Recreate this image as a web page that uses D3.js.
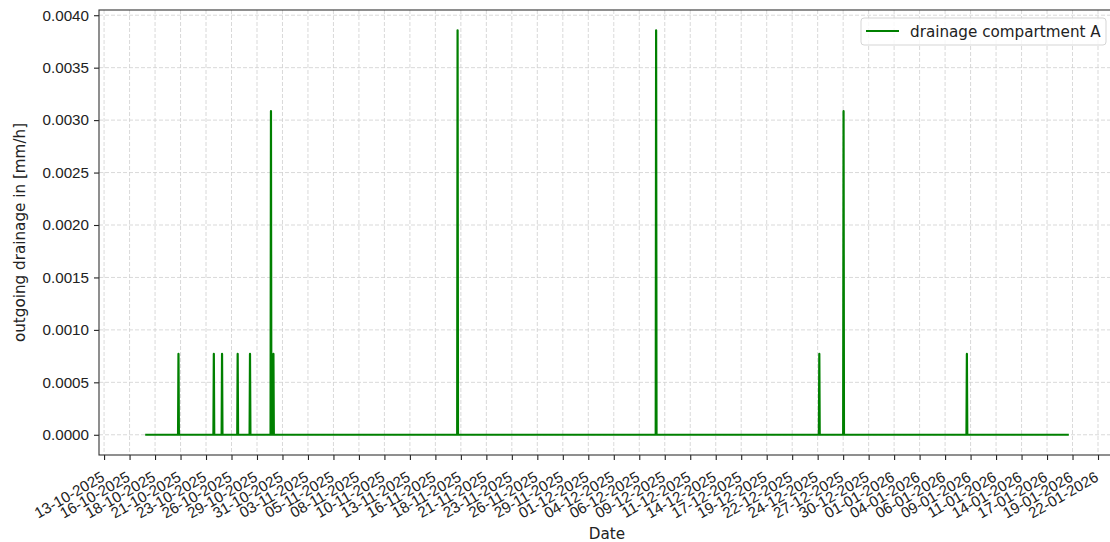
<!DOCTYPE html>
<html>
<head>
<meta charset="utf-8">
<script src="https://cdn.jsdelivr.net/npm/d3@7"></script>
<style>
  html, body { margin: 0; padding: 0; background: #fff; }
  svg { display: block; font-family: "DejaVu Sans", sans-serif; }
</style>
</head>
<body>
<svg id="chart" width="1110" height="542"></svg>
<script>
// ---- data ----
const seriesName = "drainage compartment A";
const dataStart = "2025-10-17T16:00:00Z";
const dataEnd = "2026-01-19T07:00:00Z";
const eventTimes = [
  "2025-10-21T01:00:00Z", "2025-10-24T15:00:00Z", "2025-10-25T11:00:00Z",
  "2025-10-27T01:00:00Z", "2025-10-28T07:00:00Z", "2025-10-30T10:00:00Z",
  "2025-10-30T16:00:00Z", "2025-11-18T08:00:00Z", "2025-12-08T11:00:00Z",
  "2025-12-25T00:00:00Z", "2025-12-27T11:00:00Z", "2026-01-08T23:00:00Z"
];
const eventValues = [
  0.000771, 0.000771, 0.000771,
  0.000771, 0.000771, 0.003085,
  0.000771, 0.003857, 0.003857,
  0.000771, 0.003085, 0.000771
];
const yTicks = [0, 0.0005, 0.001, 0.0015, 0.002, 0.0025, 0.003, 0.0035, 0.004];
const tickStart = "2025-10-13T12:00:00Z";
const tickStepHours = 62;
const xTickLabels = [
  "13-10-2025", "16-10-2025", "18-10-2025", "21-10-2025", "23-10-2025",
  "26-10-2025", "29-10-2025", "31-10-2025", "03-11-2025", "05-11-2025",
  "08-11-2025", "10-11-2025", "13-11-2025", "16-11-2025", "18-11-2025",
  "21-11-2025", "23-11-2025", "26-11-2025", "29-11-2025", "01-12-2025",
  "04-12-2025", "06-12-2025", "09-12-2025", "11-12-2025", "14-12-2025",
  "17-12-2025", "19-12-2025", "22-12-2025", "24-12-2025", "27-12-2025",
  "30-12-2025", "01-01-2026", "04-01-2026", "06-01-2026", "09-01-2026",
  "11-01-2026", "14-01-2026", "17-01-2026", "19-01-2026", "22-01-2026"
];

// ---- layout ----
const M = { left: 99, right: 1115, top: 10, bottom: 455 };
const FONT = 15.2;
const svg = d3.select("#chart");
const HOUR = 3600 * 1000;

const t0 = new Date(dataStart), t1 = new Date(dataEnd);
const pad = (t1 - t0) * 0.05;
const x = d3.scaleUtc()
  .domain([new Date(+t0 - pad), new Date(+t1 + pad)])
  .range([M.left, M.right]);

const yMax = d3.max(eventValues);
const y = d3.scaleLinear()
  .domain([-0.05 * yMax, 1.05 * yMax])
  .range([M.bottom, M.top]);

const xTickValues = xTickLabels.map((_, i) => new Date(+new Date(tickStart) + i * tickStepHours * HOUR));

// grid
const grid = svg.append("g");
grid.selectAll("line.vx").data(xTickValues).join("line")
  .attr("x1", d => x(d)).attr("x2", d => x(d))
  .attr("y1", M.top).attr("y2", M.bottom)
  .attr("stroke", "#cfcfcf").attr("stroke-width", 0.8).attr("stroke-dasharray", "4,2");
grid.selectAll("line.hy").data(yTicks).join("line")
  .attr("x1", M.left).attr("x2", M.right)
  .attr("y1", d => y(d)).attr("y2", d => y(d))
  .attr("stroke", "#cfcfcf").attr("stroke-width", 0.8).attr("stroke-dasharray", "4,2");

// line
const pts = [[t0, 0]];
eventTimes.forEach((s, i) => {
  const t = new Date(s);
  pts.push([new Date(+t - HOUR), 0], [t, eventValues[i]], [new Date(+t + HOUR), 0]);
});
pts.push([t1, 0]);

svg.append("clipPath").attr("id", "clip").append("rect")
  .attr("x", M.left).attr("y", M.top).attr("width", M.right - M.left).attr("height", M.bottom - M.top);

svg.append("path")
  .datum(pts)
  .attr("clip-path", "url(#clip)")
  .attr("fill", "none")
  .attr("stroke", "#008000")
  .attr("stroke-width", 2.2)
  .attr("stroke-linejoin", "round")
  .attr("d", d3.line().x(d => x(d[0])).y(d => y(d[1])));

// axes
const xAxis = svg.append("g")
  .attr("transform", `translate(0,${M.bottom})`)
  .call(d3.axisBottom(x).tickValues(xTickValues).tickSize(5).tickSizeOuter(0)
        .tickFormat((d, i) => xTickLabels[i]));
xAxis.select(".domain").remove();
xAxis.selectAll(".tick line").attr("stroke", "#222").attr("stroke-width", 1.1);
xAxis.selectAll(".tick text")
  .attr("font-size", FONT).attr("fill", "#222")
  .attr("text-anchor", "end")
  .attr("dy", null).attr("y", 0).attr("x", 0)
  .attr("transform", "translate(1,25) rotate(-30)");

const yAxis = svg.append("g")
  .attr("transform", `translate(${M.left},0)`)
  .call(d3.axisLeft(y).tickValues(yTicks).tickSize(5).tickPadding(5).tickSizeOuter(0)
        .tickFormat(d3.format(".4f")));
yAxis.select(".domain").remove();
yAxis.selectAll(".tick line").attr("stroke", "#222").attr("stroke-width", 1.1);
yAxis.selectAll(".tick text").attr("font-size", FONT).attr("fill", "#222");

// spines
svg.append("rect")
  .attr("x", M.left).attr("y", M.top)
  .attr("width", M.right - M.left).attr("height", M.bottom - M.top)
  .attr("fill", "none").attr("stroke", "#333").attr("stroke-width", 1.1);

// labels
svg.append("text")
  .attr("x", (M.left + M.right) / 2).attr("y", 538.5)
  .attr("text-anchor", "middle").attr("font-size", FONT).attr("fill", "#222")
  .text("Date");
svg.append("text")
  .attr("transform", `translate(25,${(M.top + M.bottom) / 2}) rotate(-90)`)
  .attr("text-anchor", "middle").attr("font-size", FONT).attr("fill", "#222")
  .text("outgoing drainage in [mm/h]");

// legend
const lg = svg.append("g");
const lgX = 861, lgY = 18, lgW = 245, lgH = 27;
lg.append("rect").attr("x", lgX).attr("y", lgY).attr("width", lgW).attr("height", lgH)
  .attr("rx", 3).attr("fill", "#fff").attr("fill-opacity", 0.8)
  .attr("stroke", "#d5d5d5").attr("stroke-width", 1);
lg.append("line").attr("x1", lgX + 5).attr("x2", lgX + 38)
  .attr("y1", lgY + 13).attr("y2", lgY + 13)
  .attr("stroke", "#008000").attr("stroke-width", 2.2);
lg.append("text").attr("x", lgX + 49).attr("y", lgY + 18.5)
  .attr("font-size", FONT).attr("fill", "#222").text(seriesName);
</script>
</body>
</html>
